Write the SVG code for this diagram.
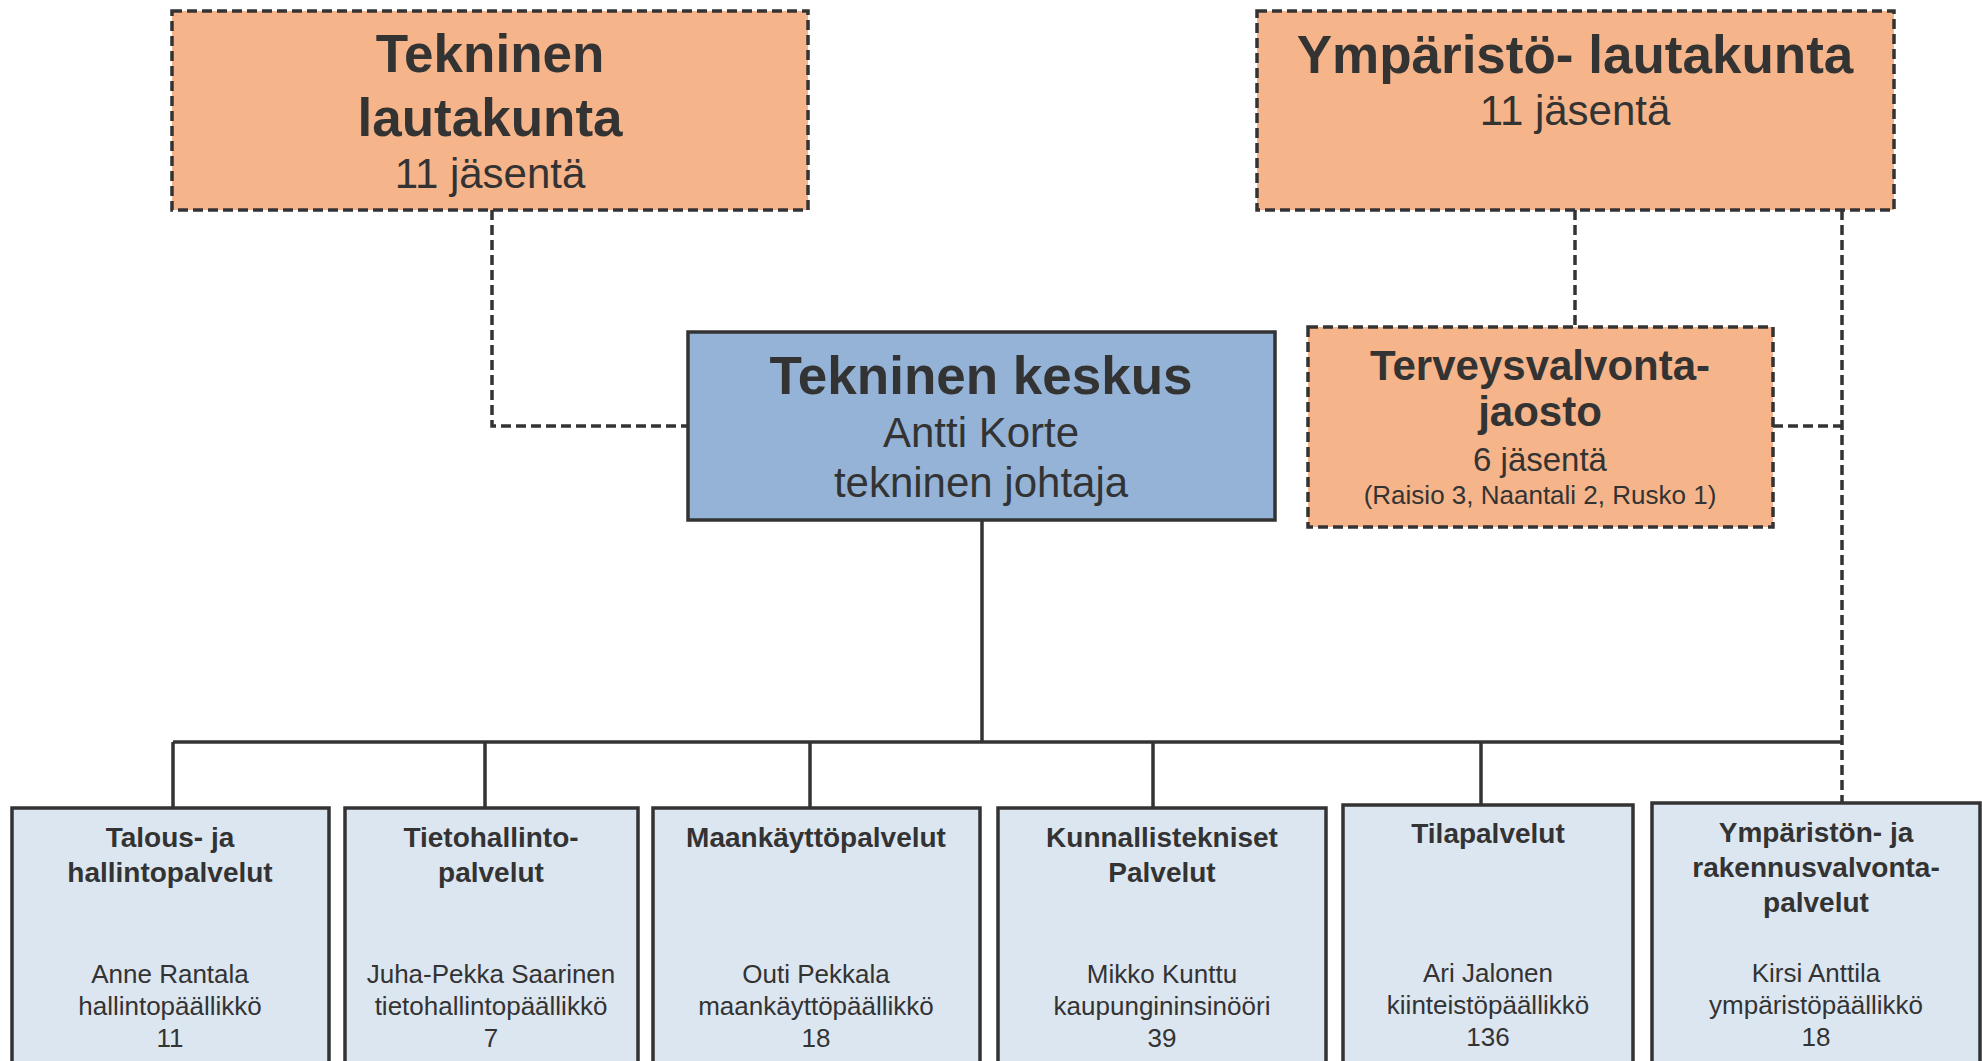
<svg xmlns="http://www.w3.org/2000/svg" width="1982" height="1061" viewBox="0 0 1982 1061">
<style>
.board{fill:#F6B48A;stroke:#333;stroke-width:3.5;stroke-dasharray:10 5}
.center{fill:#95B3D7;stroke:#333;stroke-width:3.5}
.unit{fill:#DCE6F1;stroke:#333;stroke-width:3.5}
text{font-family:"Liberation Sans",Arial,sans-serif;fill:#333;text-anchor:middle}
.b53{font-size:53px;font-weight:bold}
.r42{font-size:42px}
.b42{font-size:42px;font-weight:bold}
.r33{font-size:33px}
.r26{font-size:26px}
.b28{font-size:28px;font-weight:bold}
.solid{fill:none;stroke:#333;stroke-width:3.5}
.dash{fill:none;stroke:#333;stroke-width:3.5;stroke-dasharray:10 5}
</style>
<g id="connectors">
<path class="dash" d="M492,210 V426 H688"/>
<path class="dash" d="M1575,210 V327"/>
<path class="dash" d="M1842,210 V803"/>
<path class="dash" d="M1773,426 H1842"/>
<path class="solid" d="M982,520 V742"/>
<path class="solid" d="M173,742 H1842"/>
<path class="solid" d="M173,742 V808"/>
<path class="solid" d="M485,742 V808"/>
<path class="solid" d="M810,742 V808"/>
<path class="solid" d="M1153,742 V808"/>
<path class="solid" d="M1481,742 V805"/>
</g>
<g id="tekninen-lautakunta">
<rect class="board" x="172" y="11" width="636" height="199"/>
<text class="b53" x="490" y="72">Tekninen</text>
<text class="b53" x="490" y="136">lautakunta</text>
<text class="r42" x="490" y="188">11 jäsentä</text>
</g>
<g id="ymparisto-lautakunta">
<rect class="board" x="1257" y="11" width="637" height="199"/>
<text class="b53" x="1575" y="73">Ympäristö- lautakunta</text>
<text class="r42" x="1575" y="125">11 jäsentä</text>
</g>
<g id="tekninen-keskus">
<rect class="center" x="688" y="332" width="587" height="188"/>
<text class="b53" x="981" y="394">Tekninen keskus</text>
<text class="r42" x="981" y="447">Antti Korte</text>
<text class="r42" x="981" y="497">tekninen johtaja</text>
</g>
<g id="terveysvalvontajaosto">
<rect class="board" x="1308" y="327" width="465" height="200"/>
<text class="b42" x="1540" y="380">Terveysvalvonta-</text>
<text class="b42" x="1540" y="426">jaosto</text>
<text class="r33" x="1540" y="471">6 jäsentä</text>
<text class="r26" x="1540" y="504">(Raisio 3, Naantali 2, Rusko 1)</text>
</g>
<g id="talous">
<rect class="unit" x="12" y="808" width="317" height="270"/>
<text class="b28" x="170" y="847">Talous- ja</text>
<text class="b28" x="170" y="882">hallintopalvelut</text>
<text class="r26" x="170" y="983">Anne Rantala</text>
<text class="r26" x="170" y="1015">hallintopäällikkö</text>
<text class="r26" x="170" y="1047">11</text>
</g>
<g id="tietohallinto">
<rect class="unit" x="345" y="808" width="293" height="270"/>
<text class="b28" x="491" y="847">Tietohallinto-</text>
<text class="b28" x="491" y="882">palvelut</text>
<text class="r26" x="491" y="983">Juha-Pekka Saarinen</text>
<text class="r26" x="491" y="1015">tietohallintopäällikkö</text>
<text class="r26" x="491" y="1047">7</text>
</g>
<g id="maankaytto">
<rect class="unit" x="653" y="808" width="327" height="270"/>
<text class="b28" x="816" y="847">Maankäyttöpalvelut</text>
<text class="r26" x="816" y="983">Outi Pekkala</text>
<text class="r26" x="816" y="1015">maankäyttöpäällikkö</text>
<text class="r26" x="816" y="1047">18</text>
</g>
<g id="kunnallistekniset">
<rect class="unit" x="998" y="808" width="328" height="270"/>
<text class="b28" x="1162" y="847">Kunnallistekniset</text>
<text class="b28" x="1162" y="882">Palvelut</text>
<text class="r26" x="1162" y="983">Mikko Kunttu</text>
<text class="r26" x="1162" y="1015">kaupungininsinööri</text>
<text class="r26" x="1162" y="1047">39</text>
</g>
<g id="tilapalvelut">
<rect class="unit" x="1343" y="805" width="290" height="270"/>
<text class="b28" x="1488" y="843">Tilapalvelut</text>
<text class="r26" x="1488" y="982">Ari Jalonen</text>
<text class="r26" x="1488" y="1014">kiinteistöpäällikkö</text>
<text class="r26" x="1488" y="1046">136</text>
</g>
<g id="ymparisto-rakennusvalvonta">
<rect class="unit" x="1652" y="803" width="328" height="270"/>
<text class="b28" x="1816" y="842">Ympäristön- ja</text>
<text class="b28" x="1816" y="877">rakennusvalvonta-</text>
<text class="b28" x="1816" y="912">palvelut</text>
<text class="r26" x="1816" y="982">Kirsi Anttila</text>
<text class="r26" x="1816" y="1014">ympäristöpäällikkö</text>
<text class="r26" x="1816" y="1046">18</text>
</g>
</svg>
